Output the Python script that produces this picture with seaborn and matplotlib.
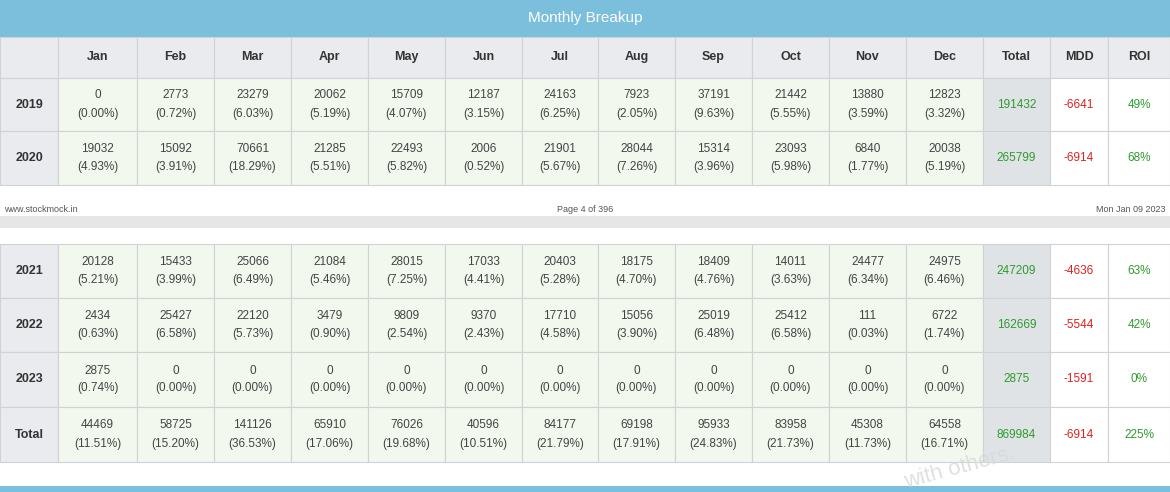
import matplotlib
matplotlib.use("Agg")
import matplotlib.pyplot as plt
import seaborn as sns
from matplotlib.patches import Rectangle

sns.set_theme(style="white")
plt.rcParams['font.family'] = ['Liberation Sans', 'DejaVu Sans']

months = ["Jan","Feb","Mar","Apr","May","Jun","Jul","Aug","Sep","Oct","Nov","Dec"]
years_top = ["2019","2020"]
years_bot = ["2021","2022","2023","Total"]
v2019 = [0,2773,23279,20062,15709,12187,24163,7923,37191,21442,13880,12823]
p2019 = ["0.00","0.72","6.03","5.19","4.07","3.15","6.25","2.05","9.63","5.55","3.59","3.32"]
v2020 = [19032,15092,70661,21285,22493,2006,21901,28044,15314,23093,6840,20038]
p2020 = ["4.93","3.91","18.29","5.51","5.82","0.52","5.67","7.26","3.96","5.98","1.77","5.19"]
v2021 = [20128,15433,25066,21084,28015,17033,20403,18175,18409,14011,24477,24975]
p2021 = ["5.21","3.99","6.49","5.46","7.25","4.41","5.28","4.70","4.76","3.63","6.34","6.46"]
v2022 = [2434,25427,22120,3479,9809,9370,17710,15056,25019,25412,111,6722]
p2022 = ["0.63","6.58","5.73","0.90","2.54","2.43","4.58","3.90","6.48","6.58","0.03","1.74"]
v2023 = [2875,0,0,0,0,0,0,0,0,0,0,0]
p2023 = ["0.74"] + ["0.00"]*11
vTot = [44469,58725,141126,65910,76026,40596,84177,69198,95933,83958,45308,64558]
pTot = ["11.51","15.20","36.53","17.06","19.68","10.51","21.79","17.91","24.83","21.73","11.73","16.71"]
totals = [191432,265799,247209,162669,2875,869984]
mdd = [-6641,-6914,-4636,-5544,-1591,-6914]
roi = ["49%","68%","63%","42%","0%","225%"]

vals = [v2019,v2020,v2021,v2022,v2023,vTot]
pcts = [p2019,p2020,p2021,p2022,p2023,pTot]

fig = plt.figure(figsize=(11.7,4.92), dpi=100)
ax = fig.add_axes([0,0,1,1])
ax.set_xlim(0,1170); ax.set_ylim(492,0); ax.axis("off")

xs = [0,58,137,214,291,368,445,522,598,675,752,829,906,983,1050,1108,1170]
border = "#cfd3d6"
def cell(x0,x1,y0,y1,fc):
    ax.add_patch(Rectangle((x0,y0),x1-x0,y1-y0,facecolor=fc,edgecolor=border,lw=0.8))

# title bar
ax.add_patch(Rectangle((0,0),1170,37,facecolor="#7bbfdc",edgecolor="none"))
ax.text(585,18,"Monthly Breakup",color="white",ha="center",va="center",fontsize=11)
# header row
heads = [""]+months+["Total","MDD","ROI"]
for i,h in enumerate(heads):
    cell(xs[i],xs[i+1],37,78,"#e9ebee")
    ax.text((xs[i]+xs[i+1])/2,57,h,ha="center",va="center",fontsize=9,fontweight="bold",color="#333333")

def row(idx,label,y0,y1):
    cy=(y0+y1)/2
    cell(xs[0],xs[1],y0,y1,"#e9ebee")
    ax.text(29,cy,label,ha="center",va="center",fontsize=9,fontweight="bold",color="#333333")
    for j in range(12):
        cell(xs[j+1],xs[j+2],y0,y1,"#f2f8ee")
        xc=(xs[j+1]+xs[j+2])/2
        ax.text(xc,cy-9,str(vals[idx][j]),ha="center",va="center",fontsize=8.5,color="#444444")
        ax.text(xc,cy+9,"("+pcts[idx][j]+"%)",ha="center",va="center",fontsize=8.5,color="#444444")
    cell(xs[13],xs[14],y0,y1,"#dfe3e6")
    ax.text((xs[13]+xs[14])/2,cy,str(totals[idx]),ha="center",va="center",fontsize=8.5,color="#2e9a2e")
    cell(xs[14],xs[15],y0,y1,"white")
    ax.text((xs[14]+xs[15])/2,cy,str(mdd[idx]),ha="center",va="center",fontsize=8.5,color="#e02020")
    cell(xs[15],xs[16],y0,y1,"white")
    ax.text((xs[15]+xs[16])/2,cy,roi[idx],ha="center",va="center",fontsize=8.5,color="#2e9a2e")

row(0,years_top[0],78,131)
row(1,years_top[1],131,185)

ax.text(4,210,"www.stockmock.in",fontsize=6.5,va="center",color="#555555")
ax.text(585,210,"Page 4 of 396",fontsize=6.5,va="center",ha="center",color="#555555")
ax.text(1166,210,"Mon Jan 09 2023",fontsize=6.5,va="center",ha="right",color="#555555")
ax.add_patch(Rectangle((0,216),1170,12,facecolor="#e6e6e6",edgecolor="none"))

ys=[244,298,352,407,462]
for k in range(4):
    row(k+2,years_bot[k],ys[k],ys[k+1])
ax.text(960,468,"with others.",fontsize=16,color="#d8d8d8",rotation=15,ha="center",va="center",alpha=0.8)
ax.add_patch(Rectangle((0,486),1170,6,facecolor="#7bbfdc",edgecolor="none"))
fig.savefig("out.png",dpi=100)
